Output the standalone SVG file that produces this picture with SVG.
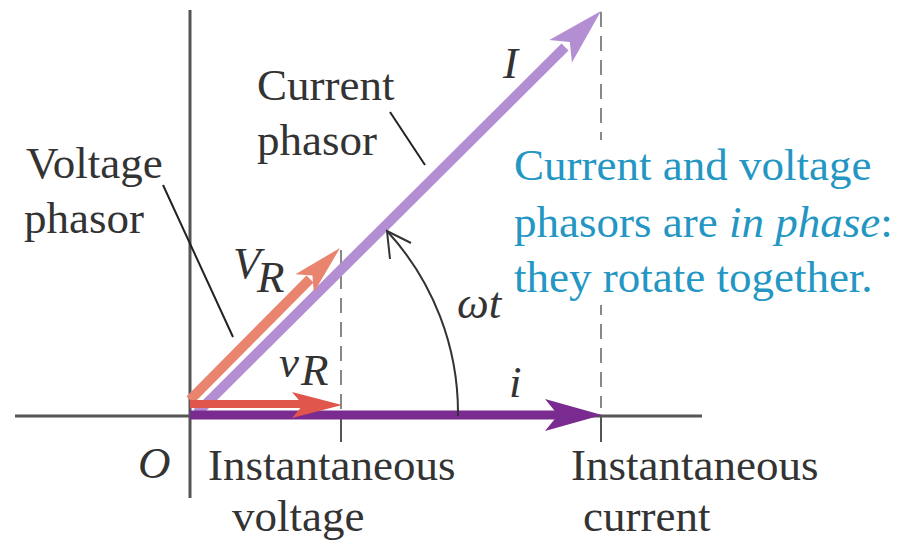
<svg xmlns="http://www.w3.org/2000/svg" width="916" height="544" viewBox="0 0 916 544">
<style>
.t{font-family:"Liberation Serif","Times New Roman",serif;font-size:45px;fill:#333}
.b{font-family:"Liberation Serif","Times New Roman",serif;font-size:45px;fill:#2396c3}
.it{font-style:italic}
.axis{stroke:#555;stroke-width:3;fill:none}
.dash{stroke:#888;stroke-width:2;stroke-dasharray:15 9;fill:none}
.tick{stroke:#555;stroke-width:2;fill:none}
.lead{stroke:#222;stroke-width:2;fill:none}
</style>
<defs>
<path id="head" d="M0,0 L-57,-16 L-44,0 L-57,16 Z"/>
<path id="headS" d="M0,0 L-50,-13 L-39,0 L-50,13 Z"/>
</defs>
<rect width="916" height="544" fill="#fff"/>
<g id="axes">
<line class="axis" x1="190" y1="10" x2="190" y2="498"/>
<line class="axis" x1="15" y1="416" x2="702" y2="416"/>
<line class="tick" x1="341" y1="416" x2="341" y2="442"/>
<line class="tick" x1="601" y1="416" x2="601" y2="442"/>
<line class="dash" x1="341" y1="250" x2="341" y2="410"/>
<line class="dash" x1="601" y1="12" x2="601" y2="408"/>
</g>
<g id="connectors">
<g id="phasor-I">
<line x1="197" y1="413" x2="565" y2="47" stroke="#b48ed2" stroke-width="10"/>
<use href="#head" fill="#b48ed2" transform="translate(601,11) rotate(-44.9)"/>
</g>
<g id="phasor-VR">
<line x1="190" y1="400" x2="310" y2="279" stroke="#e9846f" stroke-width="10"/>
<use href="#headS" fill="#e9846f" transform="translate(340,248) rotate(-45)"/>
</g>
<g id="phasor-i">
<line x1="190" y1="415" x2="565" y2="415" stroke="#7a2b90" stroke-width="9"/>
<use href="#head" fill="#7a2b90" transform="translate(602,415)"/>
</g>
<g id="phasor-vR">
<line x1="190" y1="404" x2="305" y2="404" stroke="#e0554c" stroke-width="8"/>
<use href="#headS" fill="#e0554c" transform="translate(342,405)"/>
</g>
<g id="angle-arc">
<path d="M458,416 A269,269 0 0 0 387,231" stroke="#333" stroke-width="2" fill="none"/>
<polyline points="411,243 387,231 390,259" stroke="#333" stroke-width="2" fill="none"/>
</g>
<line class="lead" x1="390" y1="112" x2="425" y2="165"/>
<line class="lead" x1="163" y1="185" x2="233" y2="337"/>
</g>
<g id="label-current-phasor">
<text class="t" x="257" y="100">Current</text>
<text class="t" x="257" y="155">phasor</text>
</g>
<g id="label-voltage-phasor">
<text class="t" x="26" y="178">Voltage</text>
<text class="t" x="24" y="233">phasor</text>
</g>
<g id="note">
<rect x="508" y="140" width="380" height="165" fill="#fff"/>
<text class="b" x="514" y="180">Current and voltage</text>
<text class="b" x="514" y="237">phasors are <tspan class="it">in phase</tspan>:</text>
<text class="b" x="514" y="292">they rotate together.</text>
</g>
<g id="symbols">
<text class="t it" x="503" y="78">I</text>
<text class="t it" x="233" y="278" font-size="40">V</text>
<text class="t it" x="257" y="292" font-size="30">R</text>
<text class="t it" x="279" y="377" font-size="40">v</text>
<text class="t it" x="301" y="385" font-size="30">R</text>
<text class="t it" x="457" y="318" font-size="38">ωt</text>
<text class="t it" x="509" y="397" font-size="40">i</text>
<text class="t it" x="138" y="478">O</text>
</g>
<g id="label-inst-voltage">
<text class="t" x="208" y="480">Instantaneous</text>
<text class="t" x="232" y="531">voltage</text>
</g>
<g id="label-inst-current">
<text class="t" x="571" y="480">Instantaneous</text>
<text class="t" x="583" y="531">current</text>
</g>
</svg>
